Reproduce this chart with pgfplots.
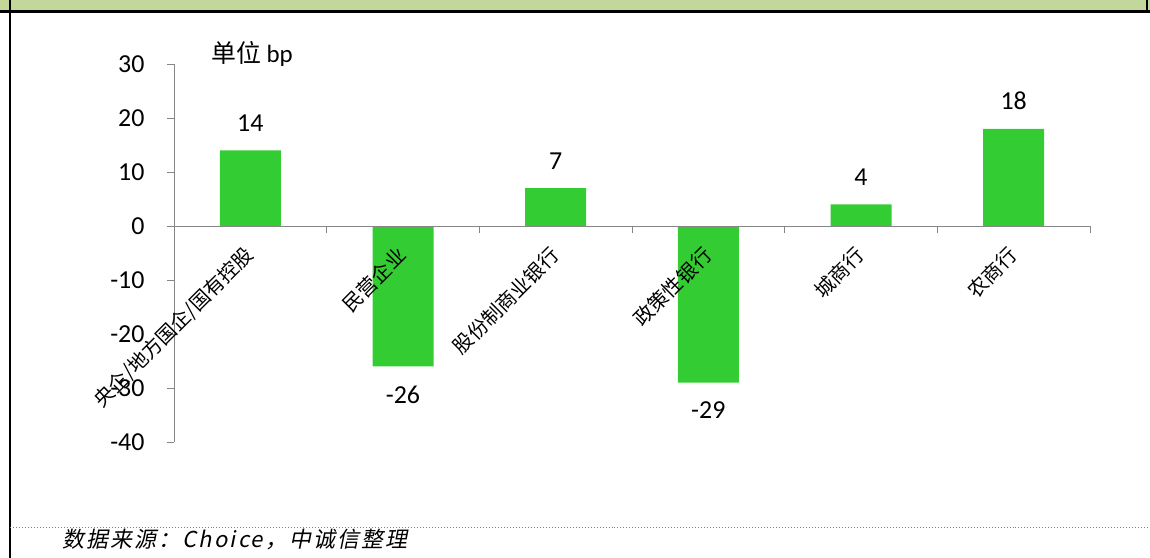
\documentclass[border=0pt]{standalone}
\usepackage{pgfplots}
\pgfplotsset{compat=1.18}
\usepackage{fontspec}
\setmainfont{Carlito}
\newfontfamily\cjk{Noto Sans CJK SC}
\newfontfamily\cjkit[FakeSlant=0.2, LetterSpace=10]{Noto Sans CJK SC}
\definecolor{barg}{RGB}{51,204,51}
\definecolor{hdr}{RGB}{196,215,155}
\definecolor{axg}{RGB}{134,134,134}
\begin{document}
\begin{tikzpicture}
\path[use as bounding box] (0bp,0bp) rectangle (1150bp,-558bp);
\fill[hdr] (0bp,0bp) rectangle (1150bp,-10bp);
\draw[line width=3bp] (0bp,-11bp) -- (1150bp,-11bp);
\draw[line width=2.5bp] (10bp,0bp) -- (10bp,-558bp);
\draw[line width=2bp] (1147bp,0bp) -- (1147bp,-11bp);
\draw[gray, dotted, line width=1bp] (10bp,-527bp) -- (1150bp,-527bp);
\node[anchor=west, inner sep=0pt, font=\fontsize{22}{22}\selectfont\cjkit] at (62bp,-539bp) {数据来源：Choice，中诚信整理};
\node[anchor=west, inner sep=0pt, font=\fontsize{25}{25}\selectfont] at (211bp,-54bp) {{\cjk 单位} bp};
\begin{axis}[
  at={(174bp,-442bp)}, anchor=south west,
  scale only axis, width=916bp, height=378bp,
  axis on top,
  axis x line=middle, axis y line=left,
  x axis line style={-, draw=axg, line width=1bp},
  y axis line style={-, draw=axg, line width=1bp},
  xmin=0.5, xmax=6.5, ymin=-40, ymax=30,
  ytick={-40,-30,...,30},
  hide obscured y ticks=false,
  hide obscured x ticks=false,
  xtick={1.5,2.5,3.5,4.5,5.5,6.5},
  xticklabels={},
  extra x ticks={1,2,3,4,5,6},
  extra x tick labels={央企/地方国企/国有控股,民营企业,股份制商业银行,政策性银行,城商行,农商行},
  extra x tick style={major tick length=0pt, tick label style={xshift=2bp, yshift=-23bp, rotate=45, anchor=east, font=\fontsize{20}{20}\selectfont\cjk}},
  tick align=outside,
  major tick length=7bp,
  tick style={draw=axg, line width=1bp},
  yticklabel style={font=\fontsize{26}{26}\selectfont, xshift=-19bp},
  /pgf/number format/assume math mode=true,
  ybar, bar width=61bp,
  nodes near coords,
  every node near coord/.append style={font=\fontsize{26}{26}\selectfont, inner ysep=19bp},
  clip=false,
]
\addplot[fill=barg, draw=none] coordinates {(1,14) (2,-26) (3,7) (4,-29) (5,4) (6,18)};
\end{axis}
\end{tikzpicture}
\end{document}
